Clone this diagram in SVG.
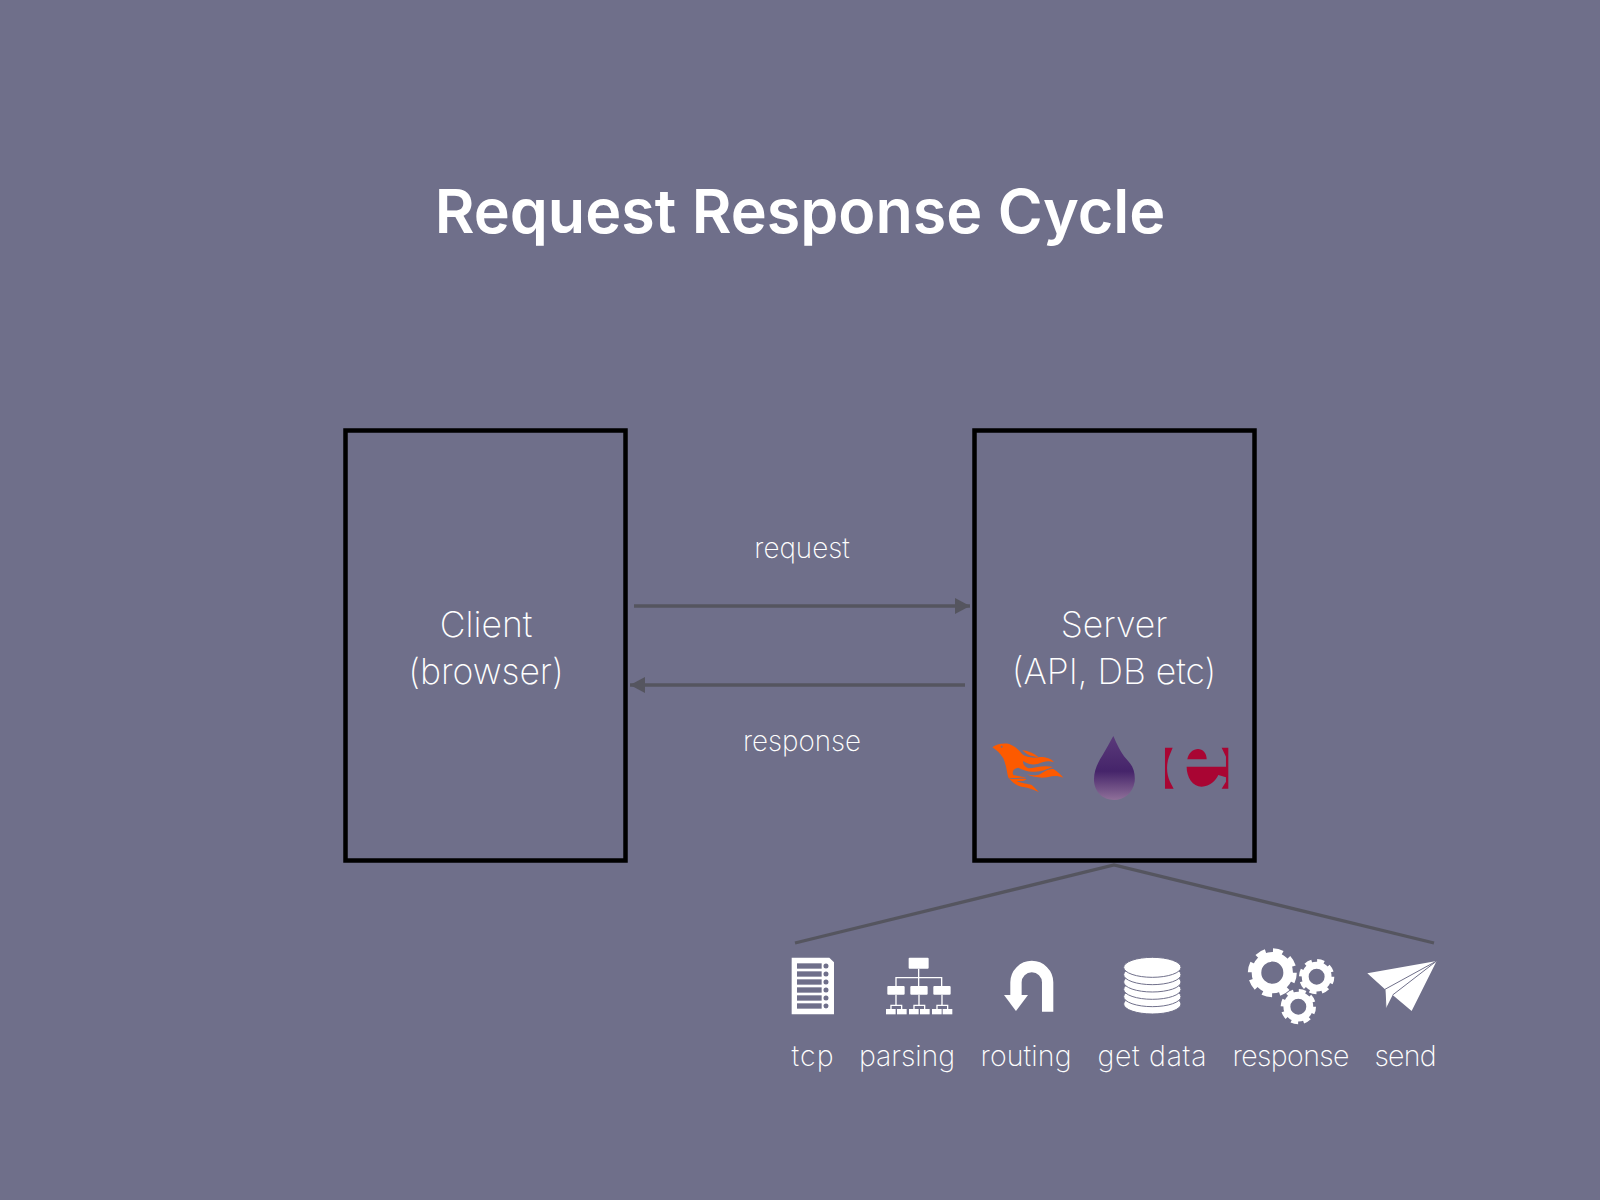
<svg xmlns="http://www.w3.org/2000/svg" width="1600" height="1200" viewBox="0 0 1600 1200">
<style>
text{font-family:"Inter","Liberation Sans",sans-serif;fill:#fff;text-anchor:middle}
.title{font-size:61px;font-weight:600}
.big{font-size:35.500px;font-weight:200}
.mid{font-size:27.800px;font-weight:200}
.low{font-size:28.500px;font-weight:200}
.box{fill:none;stroke:#000;stroke-width:4.500}
.conn{fill:none;stroke:#55555f;stroke-width:3.300}
.w{fill:#fff}
.bgf{fill:#6f6f8a}
.org{stroke:#fff;stroke-width:4;fill:none}
.disc{fill:#fff;stroke:#6f6f8a;stroke-width:3}
</style>
<defs>
<marker id="ah" markerUnits="userSpaceOnUse" markerWidth="16" markerHeight="16" refX="15" refY="8" orient="auto"><path d="M0 0L15 8L0 16Z" fill="#55555f"/></marker>
<linearGradient id="drop" x1="0" y1="0" x2="0" y2="1"><stop offset="0" stop-color="#5a3a7a"/><stop offset=".55" stop-color="#45246a"/><stop offset="1" stop-color="#8f7099"/></linearGradient>
<g id="gear"><circle r="6.600" fill="none" stroke="#fff" stroke-width="4"/><circle r="9" fill="none" stroke="#fff" stroke-width="2.400" stroke-dasharray="4 3.070"/></g>
</defs>
<rect id="background" width="1600" height="1200" fill="#6f6f8a"/>
<text id="title" class="title" x="800" y="233">Request Response Cycle</text>
<g id="client"><rect class="box" x="345.500" y="430.500" width="280" height="430"/><text class="big" x="486" y="636.500">Client</text><text class="big" x="486" y="683.500">(browser)</text></g>
<g id="server"><rect class="box" x="974.500" y="430.500" width="280" height="430"/><text class="big" x="1114" y="636.500">Server</text><text class="big" x="1114" y="683.500">(API, DB etc)</text></g>
<g id="connectors">
<path class="conn" d="M634 606H970" marker-end="url(#ah)"/>
<path class="conn" d="M965 685H630" marker-end="url(#ah)"/>
<path class="conn" d="M795 943L1114 865L1434 943"/>
</g>
<g id="label-request"><text class="mid" x="802" y="558">request</text></g>
<g id="label-response"><text class="mid" x="802" y="751">response</text></g>
<g id="logo-phoenix" transform="translate(985,735) scale(.3333)" fill="#fd5a00"><path d="M22 37C32 28 50 24 70 26C85 30 100 42 112 58C125 68 145 70 165 66C185 66 198 70 207 82C190 76 175 80 160 86C140 92 125 85 115 78C112 85 118 95 130 100C150 100 170 90 205 96C190 100 175 110 150 110C130 112 115 105 100 98C85 100 80 110 85 120L125 128C105 128 85 130 70 128C65 110 65 95 55 70C45 55 35 45 22 37Z"/><path d="M112 45C130 48 148 55 160 66C145 66 125 60 112 45Z"/><path d="M165 118C180 108 192 100 205 102C218 110 228 120 235 128C220 122 205 122 190 126C175 130 145 128 125 118C140 122 155 122 165 118Z"/><path d="M70 128C85 136 105 130 125 132C118 140 105 138 95 138C110 146 130 146 140 150C150 158 155 165 162 172C148 165 130 158 115 156C100 155 85 145 70 128Z"/><circle cx="50" cy="35" r="3" fill="#6f6f8a"/></g>
<g id="logo-elixir" transform="translate(970,720) scale(.3333)"><path fill="url(#drop)" d="M430 48C440 70 450 95 470 118L480 130C492 145 496 165 494 185C488 220 462 240 432 240C398 240 372 215 372 178C372 150 385 125 398 105C410 85 420 65 430 48Z"/></g>
<g id="logo-erlang" transform="translate(970,720) scale(.3333)" fill="#a90533"><path d="M585 83H608L597 110C588 135 590 165 600 185L611 206H585Z"/><path d="M775 83H755L768 110V185L755 206H775Z"/><path d="M652 118C655 98 670 87 684 87C698 87 710 98 710 118Z"/><path d="M650 140H768V172L745 165C738 180 720 200 695 200C668 200 650 172 650 140Z"/></g>
<g id="icon-tcp" transform="translate(770,930) scale(.3333)"><path class="w" d="M65 83H178L192 97V253H65Z"/><g class="bgf"><rect x="81" y="100" width="74" height="16"/><rect x="81" y="124" width="74" height="16"/><rect x="81" y="148" width="74" height="16"/><rect x="81" y="172" width="74" height="16"/><rect x="81" y="196" width="74" height="16"/><rect x="81" y="220" width="74" height="16"/><circle cx="168" cy="108" r="7.500"/><circle cx="168" cy="132" r="7.500"/><circle cx="168" cy="156" r="7.500"/><circle cx="168" cy="180" r="7.500"/><circle cx="168" cy="204" r="7.500"/><circle cx="168" cy="228" r="7.500"/></g></g>
<g id="icon-parsing" transform="translate(770,930) scale(.3333)"><path class="org" d="M446 116V168M378 168V143H515V168M378 194V226M363 237V226H395V237M447 194V226M432 237V226H464V237M516 194V226M501 237V226H533V237"/><g class="w"><rect x="416" y="83" width="60" height="33" rx="3"/><rect x="352" y="168" width="52" height="26" rx="3"/><rect x="421" y="168" width="52" height="26" rx="3"/><rect x="490" y="168" width="52" height="26" rx="3"/><rect x="348" y="237" width="29" height="16"/><rect x="381" y="237" width="29" height="16"/><rect x="417" y="237" width="29" height="16"/><rect x="450" y="237" width="29" height="16"/><rect x="486" y="237" width="29" height="16"/><rect x="518" y="237" width="29" height="16"/></g></g>
<g id="icon-routing" transform="translate(770,930) scale(.3333)"><path fill="none" stroke="#fff" stroke-width="34" d="M833 245V157A47.500 47.500 0 0 0 738 157V195"/><path class="w" d="M702 195H774L738 243Z"/></g>
<g id="icon-data" transform="translate(1090,930) scale(.3333)"><ellipse class="disc" cx="187" cy="222" rx="86" ry="30"/><ellipse class="disc" cx="187" cy="200" rx="86" ry="30"/><ellipse class="disc" cx="187" cy="178" rx="86" ry="30"/><ellipse class="disc" cx="187" cy="156" rx="86" ry="30"/><ellipse class="disc" cx="187" cy="134" rx="86" ry="30"/><ellipse class="disc" cx="187" cy="112" rx="86" ry="30"/></g>
<g id="icon-response" transform="translate(1090,930) scale(.3333)"><use href="#gear" transform="translate(547,128) scale(7.200)"/><use href="#gear" transform="translate(680,140) scale(5.200)"/><use href="#gear" transform="translate(625,230) scale(5.200)"/></g>
<g id="icon-send" transform="translate(1090,930) scale(.3333)"><path class="w" d="M832 130L1040 93L965 243L908 195L888 235L885 178Z"/><path fill="none" stroke="#6f6f8a" stroke-width="3" d="M1040 93L885 178M1040 93L908 195M885 178L888 235"/></g>
<g id="labels"><text class="low" x="812.500" y="1065.500" textLength="42">tcp</text><text class="low" x="907" y="1065.500" textLength="96">parsing</text><text class="low" x="1026" y="1065.500" textLength="91">routing</text><text class="low" x="1152" y="1065.500" textLength="109">get data</text><text class="low" x="1291" y="1065.500" textLength="117">response</text><text class="low" x="1405.500" y="1065.500" textLength="62">send</text></g>
</svg>
